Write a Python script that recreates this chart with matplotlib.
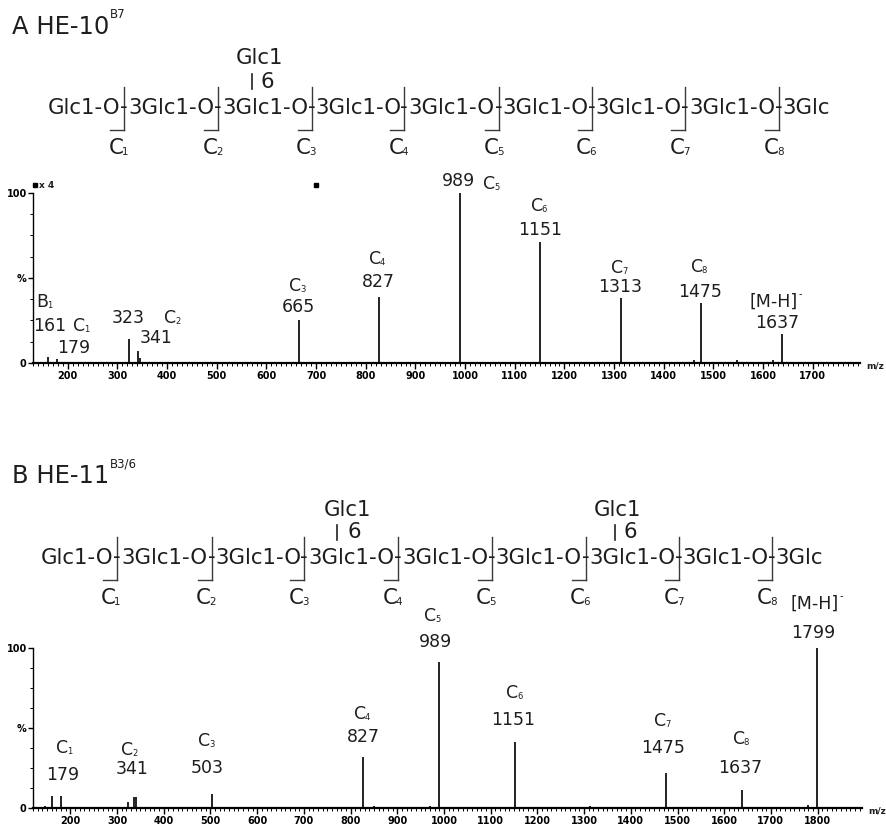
import matplotlib
matplotlib.use("Agg")
import matplotlib.pyplot as plt
from matplotlib.lines import Line2D
from matplotlib.ticker import MultipleLocator, FixedLocator, FixedFormatter

plt.rcParams['font.family'] = ['DejaVu Sans']
plt.rcParams['mathtext.fontset'] = 'dejavusans'

W, H = 887, 827
TXT = '#1e1e1e'

# ---------------- data ----------------
# Panel A: HE-10 B7
peaks_A_mz = [161, 179, 255, 323, 341, 345, 545, 665, 827, 989, 1151, 1313, 1460, 1475, 1548, 1620, 1637]
peaks_A_int = [3.5, 2.2, 0.8, 14, 7, 3, 0.8, 25.5, 39, 100, 71, 38, 2, 35.5, 2, 1.5, 17]
xlim_A = (130, 1795)
mag_range_A = [135, 700]
mag_factor_A = 4

# Panel B: HE-11 B3/6
peaks_B_mz = [145, 161, 179, 323, 337, 341, 503, 827, 850, 970, 989, 1151, 1313, 1475, 1637, 1780, 1799]
peaks_B_int = [1.5, 7.5, 7.5, 3.5, 7, 7, 8.5, 32, 1.5, 1.2, 91, 41, 1.2, 22, 11, 2, 100]
xlim_B = (120, 1895)

xticks_A = list(range(200, 1701, 100))
xticks_B = list(range(200, 1801, 100))
ytick_vals = [0, 50, 100]
ytick_labels = ['0', '%', '100']


def fx(x):
    return x / W


def fy(y):
    return 1 - y / H


fig = plt.figure(figsize=(W / 100, H / 100), dpi=100)
renderer = fig.canvas.get_renderer()


def make_axes(left, right, y0, y100, xlim, mz, inten, xticks):
    ax = fig.add_axes([fx(left), fy(y0), (right - left) / W, (y0 - y100) / H])
    ax.set_xlim(*xlim)
    ax.set_ylim(0, 100)
    ax.vlines(mz, 0, inten, colors='#111111', linewidth=1.3, clip_on=False)
    for s in ['top', 'right']:
        ax.spines[s].set_visible(False)
    ax.spines['bottom'].set_linewidth(1.6)
    ax.spines['left'].set_linewidth(1.0)
    ax.xaxis.set_major_locator(FixedLocator(xticks))
    ax.xaxis.set_minor_locator(MultipleLocator(10))
    ax.yaxis.set_major_locator(FixedLocator(ytick_vals))
    ax.yaxis.set_major_formatter(FixedFormatter(ytick_labels))
    ax.yaxis.set_minor_locator(MultipleLocator(12.5))
    ax.tick_params(axis='x', which='major', length=4, width=1.0, pad=2, labelsize=7)
    ax.tick_params(axis='x', which='minor', length=2.5, width=0.7)
    ax.tick_params(axis='y', which='major', length=3.5, width=1.0, pad=1, labelsize=7)
    ax.tick_params(axis='y', which='minor', length=2.5, width=0.7)
    for lab in ax.get_xticklabels() + ax.get_yticklabels():
        lab.set_fontweight('bold')
    ax.patch.set_alpha(0)
    return ax


axA = make_axes(33, 860, 363, 192.7, xlim_A, peaks_A_mz, peaks_A_int, xticks_A)
axB = make_axes(33, 862, 808, 648, xlim_B, peaks_B_mz, peaks_B_int, xticks_B)

# m/z labels
fig.text(fx(866), fy(366), 'm/z', fontsize=6.5, fontweight='bold', ha='left', va='center', color=TXT)
fig.text(fx(868), fy(811), 'm/z', fontsize=6.5, fontweight='bold', ha='left', va='center', color=TXT)

# x4 magnification markers (panel A)
axA.plot(mag_range_A, [104.5, 104.5], linestyle='none', marker='s', markersize=2.5,
         color='black', clip_on=False)
fig.text(fx(39), fy(185), 'x %d' % mag_factor_A, fontsize=6.5, fontweight='bold',
         ha='left', va='center', color=TXT)


# ---------------- text helpers ----------------
def em(size):
    return size * 100 / 72.0


def width_of(s, size):
    t = fig.text(0, 0, s, fontsize=size)
    w = t.get_window_extent(renderer).width
    t.remove()
    return w


def sub_label(xc, yc, letter, sub, size, color=TXT):
    """Letter with a small subscript, centred as a group at (xc, yc) px."""
    e = em(size)
    ssize = size * 0.48
    lw = width_of(letter, size)
    sw = width_of(sub, ssize)
    base = yc + 0.3645 * e
    x0 = xc - (lw + sw) / 2
    fig.text(fx(x0), fy(base), letter, fontsize=size, ha='left', va='baseline', color=color)
    fig.text(fx(x0 + lw - 1.5), fy(base + 1), sub, fontsize=ssize, ha='left',
             va='baseline', color=color)


def sup_label(xc, yc, main, sup, size, ssize, rise, color=TXT):
    e = em(size)
    base = yc + 0.3645 * e
    t = fig.text(fx(xc), fy(base), main, fontsize=size, ha='center', va='baseline', color=color)
    bb = t.get_window_extent(renderer)
    fig.text((bb.x1 + 0.5) / W, fy(base - rise), sup, fontsize=ssize, ha='left',
             va='baseline', color=color)


# ---------------- titles ----------------
def title(x, y, main, sup, sup_dx, sup_dy):
    t = fig.text(fx(x), fy(y), main, fontsize=17.5, ha='left', va='baseline', color=TXT)
    bb = t.get_window_extent(renderer)
    fig.text((bb.x1 + sup_dx) / W, fy(y - sup_dy), sup, fontsize=8.5, ha='left',
             va='baseline', color=TXT)


title(12, 34, 'A HE-10', 'B7', 1, 16)
title(12, 483, 'B HE-11', 'B3/6', 1, 16)


# ---------------- glycan chain ----------------
def chain(brackets, baseline, vtop, vbot, hlen, label_y, branches, size=15.3):
    fig.text(fx(brackets[0] - 3.5), fy(baseline), 'Glc1-O', fontsize=size, ha='right',
             va='baseline', color=TXT)
    for i in range(len(brackets) - 1):
        xm = (brackets[i] + brackets[i + 1]) / 2
        fig.text(fx(xm), fy(baseline), '3Glc1-O', fontsize=size, ha='center',
                 va='baseline', color=TXT)
    fig.text(fx(brackets[-1] + 3.5), fy(baseline), '3Glc', fontsize=size, ha='left',
             va='baseline', color=TXT)
    for i, b in enumerate(brackets):
        fig.text(fx(b), fy(baseline), '-', fontsize=size, ha='center', va='baseline', color=TXT)
        fig.add_artist(Line2D([fx(b), fx(b)], [fy(vtop), fy(vbot)], color='#3a3a3a', lw=1.0))
        fig.add_artist(Line2D([fx(b - hlen), fx(b)], [fy(vbot), fy(vbot)], color='#3a3a3a', lw=1.0))
        sub_label(b - 5, label_y, 'C', str(i + 1), size)
    for (gx, gy, lx, ly0, ly1, sx) in branches:
        fig.text(fx(gx), fy(gy), 'Glc1', fontsize=size, ha='center', va='center', color=TXT)
        fig.add_artist(Line2D([fx(lx), fx(lx)], [fy(ly0), fy(ly1)], color='#222222', lw=1.2))
        fig.text(fx(sx), fy((ly0 + ly1) / 2), '6', fontsize=size, ha='center', va='center',
                 color=TXT)


bracketsA = [124.3, 218.3, 311.7, 404.3, 499.3, 591.7, 685, 779.3]
chain(bracketsA, 113.5, 87, 130, 14, 146,
      [(260, 58, 252, 74, 89, 267)])

bracketsB = [116.7, 211.7, 304.3, 398.3, 491.7, 585.7, 679, 772.3]
chain(bracketsB, 563.5, 537, 580, 14, 596,
      [(348, 510, 337, 525, 540, 354), (618, 510, 615, 525, 540, 630)])


# ---------------- peak annotations ----------------
PS = 12.5


def lab(x, y, s, size=PS):
    fig.text(fx(x), fy(y), s, fontsize=size, ha='center', va='center', color=TXT)


def clab(x, y, sub, letter='C'):
    sub_label(x, y, letter, sub, PS)


# panel A
clab(45, 301, '1', 'B')
lab(50, 326, '161')
clab(82, 325, '1')
lab(74, 348, '179')
lab(128, 318, '323')
clab(173, 317, '2')
lab(156, 338, '341')
clab(298, 285, '3')
lab(298, 307, '665')
clab(378, 258, '4')
lab(378, 282, '827')
lab(459, 181, '989')
clab(492, 183, '5')
clab(540, 205, '6')
lab(540, 230, '1151')
clab(620, 267, '7')
lab(620, 287, '1313')
clab(700, 266, '8')
lab(700, 292, '1475')
sup_label(774, 300, '[M-H]', '-', PS, 7, 9)
lab(777, 323, '1637')

# panel B
clab(65, 747, '1')
lab(63, 775, '179')
clab(130, 749, '2')
lab(132, 769, '341')
clab(207, 740, '3')
lab(207, 768, '503')
clab(363, 713, '4')
lab(363, 737, '827')
clab(433, 615, '5')
lab(436, 642, '989')
clab(515, 692, '6')
lab(513, 720, '1151')
clab(663, 720, '7')
lab(663, 748, '1475')
clab(742, 738, '8')
lab(740, 768, '1637')
sup_label(815, 602, '[M-H]', '-', PS, 7, 9)
lab(813, 633, '1799')

fig.savefig('out.png', dpi=100)
